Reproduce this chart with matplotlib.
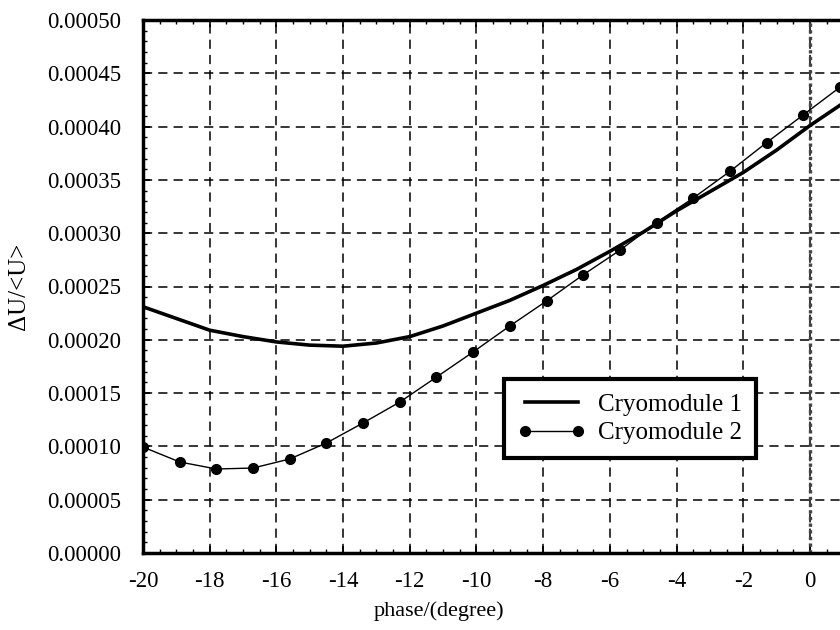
import matplotlib
matplotlib.use("Agg")
import matplotlib.pyplot as plt
from matplotlib.ticker import MultipleLocator, FormatStrFormatter

plt.rcParams['font.family'] = ['Liberation Serif', 'DejaVu Serif']
plt.rcParams['axes.unicode_minus'] = False

# Cryomodule 1 (thick curve)
phase1 = [-20, -19, -18, -17, -16, -15, -14, -13, -12, -11, -10, -9, -8, -7,
          -6, -5, -4, -3, -2, -1, 0, 0.9]
du1 = [0.000231, 0.000220, 0.000209, 0.000203, 0.000198, 0.000195, 0.000194,
       0.000197, 0.000203, 0.000213, 0.000225, 0.000237, 0.000251, 0.000266,
       0.000283, 0.000301, 0.000321, 0.000339, 0.000357, 0.000378, 0.000401,
       0.000420]

# Cryomodule 2 (dots)
phase2 = [-20.0, -18.9, -17.8, -16.7, -15.6, -14.5, -13.4, -12.3, -11.2, -10.1,
          -9.0, -7.9, -6.8, -5.7, -4.6, -3.5, -2.4, -1.3, -0.2, 0.9]
du2 = [0.0000994, 0.0000854, 0.0000788, 0.0000797, 0.0000882, 0.0001032,
       0.000122, 0.0001416, 0.000165, 0.0001886, 0.000213, 0.0002364,
       0.000261, 0.000284, 0.000310, 0.000333, 0.000358, 0.000385, 0.000411,
       0.000437]

xticks = [-20, -18, -16, -14, -12, -10, -8, -6, -4, -2, 0]
yticks = [0.0, 0.00005, 0.0001, 0.00015, 0.0002, 0.00025, 0.0003, 0.00035,
          0.0004, 0.00045, 0.0005]

fig = plt.figure(figsize=(8.4, 6.3), dpi=100)
ax = fig.add_axes([143/840, 77/630, 697/840, 533/630])

ax.set_xlim(-20, 0.9)
ax.set_ylim(0, 0.0005)

ax.grid(True, which='major', color='black', linestyle=(0, (6, 4)), linewidth=1.1)
ax.set_axisbelow(True)

ax.axvline(0, color='#444444', linestyle=(0, (1, 1)), linewidth=2.4, zorder=2)

ax.plot(phase1, du1, color='black', linewidth=2.6, label='Cryomodule 1', zorder=3)
ax.plot(phase2, du2, color='black', linewidth=1.0, marker='o', markersize=7,
        label='Cryomodule 2', zorder=4)

ax.set_xticks(xticks)
ax.set_yticks(yticks)
ax.xaxis.set_minor_locator(MultipleLocator(0.5))
ax.yaxis.set_minor_locator(MultipleLocator(0.00001))
ax.yaxis.set_major_formatter(FormatStrFormatter('%.5f'))
ax.xaxis.set_major_formatter(FormatStrFormatter('%d'))

ax.tick_params(axis='both', which='both', direction='in', top=True, right=False,
               labelsize=16.5)
ax.tick_params(axis='both', which='major', length=5, width=1.2)
ax.tick_params(axis='both', which='minor', length=3, width=1.0)
ax.tick_params(axis='y', pad=16)
ax.tick_params(axis='x', pad=13)

ax.spines['right'].set_visible(False)
for s in ['top', 'bottom', 'left']:
    ax.spines[s].set_linewidth(2.5)

ax.set_xlabel('phase/(degree)', fontsize=16)
ax.xaxis.set_label_coords(0.425, -0.09)
ax.set_ylabel('ΔU/<U>', fontsize=18)
ax.yaxis.set_label_coords(-0.162, 0.5)

leg = ax.legend(loc='lower left', bbox_to_anchor=(0.518, 0.178), fontsize=18,
                frameon=True, fancybox=False, numpoints=2, handlelength=2.7,
                borderpad=0.55, labelspacing=0.25, handletextpad=0.5,
                borderaxespad=0.0)
leg.get_frame().set_edgecolor('black')
leg.get_frame().set_linewidth(3)
leg.get_frame().set_alpha(1)

fig.savefig('out.png', dpi=100)
